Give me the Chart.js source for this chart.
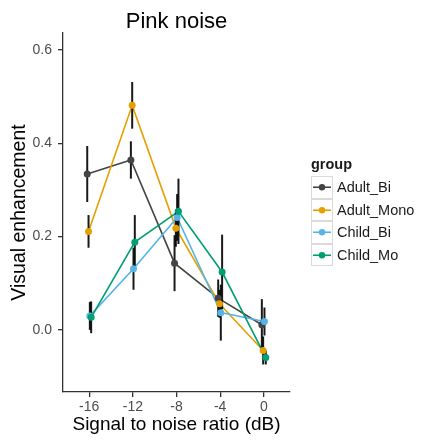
<!DOCTYPE html>
<html>
<head>
<meta charset="utf-8">
<script src="https://cdn.jsdelivr.net/npm/chart.js@4.4.0/dist/chart.umd.min.js"></script>
<style>
  html, body { margin: 0; padding: 0; background: #fff; }
  #wrap { position: relative; width: 422px; height: 447px; font-family: 'Liberation Sans', Arial, sans-serif; }
  #chart { position: absolute; left: 0; top: 0; }
  #legend { position: absolute; left: 311px; top: 156px; color: #1a1a1a; }
  #legend .ttl { font-size: 14.5px; font-weight: bold; line-height: 17px; height: 20px; }
  #legend .row { display: flex; align-items: center; height: 22.5px; }
  #legend .key { box-sizing: border-box; width: 22px; height: 22.5px; border: 1px solid #dadada; background: #fff; }
  #legend .key svg { display: block; }
  #legend .lbl { font-size: 14.5px; margin-left: 4px; white-space: nowrap; }
</style>
</head>
<body>
<div id="wrap">
  <canvas id="chart" width="422" height="447"></canvas>
  <div id="legend"></div>
</div>
<script>
// Pink noise: visual enhancement by SNR, four listener groups, mean +/- error
var TITLE = 'Pink noise';
var X_TITLE = 'Signal to noise ratio (dB)';
var Y_TITLE = 'Visual enhancement';
var LEGEND_TITLE = 'group';

var SNR = [-16, -12, -8, -4, 0];
var X_TICKS = [-16, -12, -8, -4, 0];
var Y_TICKS = [0.0, 0.2, 0.4, 0.6];

var GROUPS = ['Adult_Bi', 'Adult_Mono', 'Child_Bi', 'Child_Mo'];
var COLORS = ['#444444', '#E69F00', '#56B4E9', '#009E73'];

var ADULT_BI      = [0.334, 0.364, 0.143, 0.068, 0.011];
var ADULT_BI_ERR  = [0.060, 0.040, 0.060, 0.040, 0.055];
var ADULT_MONO     = [0.211, 0.481, 0.218, 0.056, -0.044];
var ADULT_MONO_ERR = [0.035, 0.050, 0.040, 0.030, 0.030];
var CHILD_BI      = [0.030, 0.131, 0.241, 0.037, 0.018];
var CHILD_BI_ERR  = [0.030, 0.045, 0.050, 0.060, 0.030];
var CHILD_MO      = [0.027, 0.188, 0.254, 0.124, -0.059];
var CHILD_MO_ERR  = [0.034, 0.058, 0.070, 0.080, 0.015];

var MEANS = [ADULT_BI, ADULT_MONO, CHILD_BI, CHILD_MO];
var ERRS = [ADULT_BI_ERR, ADULT_MONO_ERR, CHILD_BI_ERR, CHILD_MO_ERR];

(function() {
  var FONT = "'Liberation Sans', Arial, sans-serif";
  var DODGE_STEP = 0.12; // small horizontal dodge between groups, in dB

  function dodge(g) { return (g - (GROUPS.length - 1) / 2) * DODGE_STEP; }

  function points(g) {
    return SNR.map(function(x, i) { return { x: x + dodge(g), y: MEANS[g][i] }; });
  }

  function buildLegend() {
    var el = document.getElementById('legend');
    el.innerHTML = '<div class="ttl">' + LEGEND_TITLE + '</div>';
    GROUPS.forEach(function(name, g) {
      var row = document.createElement('div');
      row.className = 'row';
      row.innerHTML =
        '<div class="key"><svg width="20" height="20.5" aria-hidden="true">' +
          '<line x1="1" y1="10.25" x2="19" y2="10.25" stroke="' + COLORS[g] + '" stroke-width="1.6"/>' +
          '<circle cx="10" cy="10.25" r="3.2" fill="' + COLORS[g] + '"/>' +
        '</svg></div>' +
        '<span class="lbl">' + name + '</span>';
      el.appendChild(row);
    });
  }

  var titlePlugin = {
    id: 'plotTitle',
    afterDraw: function(chart) {
      var a = chart.chartArea, ctx = chart.ctx;
      ctx.save();
      ctx.font = '22px ' + FONT;
      ctx.fillStyle = '#000';
      ctx.textAlign = 'center';
      ctx.textBaseline = 'alphabetic';
      ctx.fillText(TITLE, (a.left + a.right) / 2, 28);
      ctx.restore();
    }
  };

  // error bars go above the lines but under the points
  var barsDone = false;
  var errorBarPlugin = {
    id: 'errorBars',
    beforeDatasetsDraw: function() { barsDone = false; },
    beforeDatasetDraw: function(chart, args) {
      if (barsDone || !chart.data.datasets[args.index].isPoints) return;
      barsDone = true;
      var xs = chart.scales.x, ys = chart.scales.y, ctx = chart.ctx;
      ctx.save();
      ctx.strokeStyle = 'rgba(0,0,0,0.9)';
      ctx.lineWidth = 2;
      GROUPS.forEach(function(name, g) {
        SNR.forEach(function(x, i) {
          var px = xs.getPixelForValue(x + dodge(g));
          ctx.beginPath();
          ctx.moveTo(px, ys.getPixelForValue(MEANS[g][i] + ERRS[g][i]));
          ctx.lineTo(px, ys.getPixelForValue(MEANS[g][i] - ERRS[g][i]));
          ctx.stroke();
        });
      });
      ctx.restore();
    }
  };

  var datasets = [];
  GROUPS.forEach(function(name, g) {
    datasets.push({
      label: name,
      data: points(g),
      showLine: true,
      borderColor: COLORS[g],
      borderWidth: 1.6,
      pointRadius: 0,
      fill: false,
      tension: 0,
      order: 10 + GROUPS.length - g
    });
  });
  GROUPS.forEach(function(name, g) {
    datasets.push({
      label: name,
      data: points(g),
      showLine: false,
      borderColor: COLORS[g],
      pointBackgroundColor: COLORS[g],
      pointBorderWidth: 0,
      pointRadius: 3.5,
      isPoints: true,
      order: GROUPS.length - g
    });
  });

  function render() {
    buildLegend();
    new Chart(document.getElementById('chart'), {
      type: 'scatter',
      data: { datasets: datasets },
      plugins: [errorBarPlugin, titlePlugin],
      options: {
        responsive: false,
        animation: false,
        layout: { padding: { top: 33, right: 132, bottom: 0, left: 0 } },
        plugins: {
          legend: { display: false },
          tooltip: { enabled: false },
          title: { display: false }
        },
        scales: {
          x: {
            type: 'linear',
            min: -18.4,
            max: 2.4,
            afterBuildTicks: function(s) { s.ticks = X_TICKS.map(function(v) { return { value: v }; }); },
            afterFit: function(s) { s.height = 55; },
            grid: { drawOnChartArea: false, drawTicks: true, tickLength: 5, color: '#333', lineWidth: 1.3 },
            border: { display: true, color: '#333', width: 1.3 },
            ticks: {
              font: { family: FONT, size: 14 },
              color: '#4d4d4d',
              padding: 2,
              maxRotation: 0,
              callback: function(v) { return String(v); }
            },
            title: {
              display: true,
              text: X_TITLE,
              color: '#000',
              font: { family: FONT, size: 19 },
              padding: { top: 0, bottom: 11 }
            }
          },
          y: {
            min: -0.133,
            max: 0.636,
            afterBuildTicks: function(s) { s.ticks = Y_TICKS.map(function(v) { return { value: v }; }); },
            afterFit: function(s) { s.width = 63; },
            grid: { drawOnChartArea: false, drawTicks: true, tickLength: 5, color: '#333', lineWidth: 1.3 },
            border: { display: true, color: '#333', width: 1.3 },
            ticks: {
              font: { family: FONT, size: 14 },
              color: '#4d4d4d',
              padding: 6,
              callback: function(v) { return v.toFixed(1); }
            },
            title: {
              display: true,
              text: Y_TITLE,
              color: '#000',
              font: { family: FONT, size: 19.5 },
              padding: { top: 8, bottom: 0 }
            }
          }
        }
      }
    });
  }

  function init() {
    if (!window.Chart) { setTimeout(init, 100); return; }
    render();
  }

  if (document.readyState === 'loading') {
    document.addEventListener('DOMContentLoaded', init);
  } else {
    init();
  }
})();
</script>
</body>
</html>
